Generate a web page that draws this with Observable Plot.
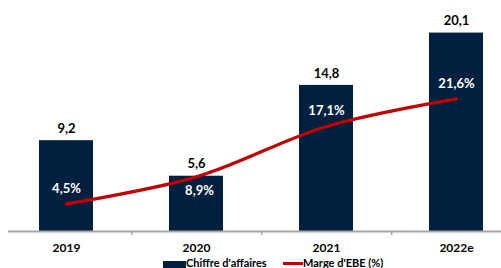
<!DOCTYPE html>
<html>
<head>
<meta charset="utf-8">
<script src="https://cdn.jsdelivr.net/npm/d3@7"></script>
<script src="https://cdn.jsdelivr.net/npm/@observablehq/plot@0.6"></script>
<style>
  html, body { margin: 0; padding: 0; background: #fff; }
  body { width: 501px; height: 268px; overflow: hidden; font-family: Lato, "Open Sans", sans-serif; }
  #chart svg { display: block; }
  .legend { position: relative; height: 11px; margin-top: 5px; font-size: 11px; line-height: 11px; font-weight: bold; color: #000; }
  .legend .item { position: absolute; top: 0; display: flex; align-items: center; height: 11px; }
  .legend .sw-bar { width: 23px; height: 9px; background: #002040; margin-top: 6px; }
  .legend .sw-line { width: 20px; height: 3px; background: #C00000; margin-top: 1px; }
</style>
</head>
<body>
<div id="chart"></div>
<div class="legend">
  <div class="item" style="left:163px;"><span class="sw-bar"></span><span class="lbl" id="lg1"></span></div>
  <div class="item" style="left:283px;"><span class="sw-line"></span><span class="lbl" id="lg2"></span></div>
</div>
<script>
const years = ["2019", "2020", "2021", "2022e"];
const chiffreAffaires = [9.2, 5.6, 14.8, 20.1];
const margeEBE = [4.5, 8.9, 17.1, 21.6];
const seriesNames = ["Chiffre d'affaires", "Marge d'EBE (%)"];

// secondary axis (%) mapped onto primary axis units
const secondaryFactor = 0.622;

const fmt = (v, d = 1) => v.toFixed(d).replace(".", ",");

const data = years.map((y, i) => ({
  year: y,
  ca: chiffreAffaires[i],
  marge: margeEBE[i],
  margeScaled: margeEBE[i] * secondaryFactor
}));

document.getElementById("lg1").textContent = seriesNames[0];
document.getElementById("lg2").textContent = seriesNames[1];

const chart = Plot.plot({
  width: 501,
  height: 252,
  marginTop: 0,
  marginBottom: 21,
  marginLeft: 0,
  marginRight: 0,
  style: { fontFamily: "Lato, 'Open Sans', sans-serif", background: "#fff", overflow: "visible" },
  x: { domain: years, range: [0, 521], padding: 0, axis: null },
  y: { domain: [0, 23.4], axis: null },
  marks: [
    Plot.barY(data, { x: "year", y: "ca", fill: "#002040", insetLeft: 38, insetRight: 38 }),
    Plot.ruleY([0], { stroke: "#A6A6A6", strokeWidth: 2, insetLeft: 8 }),
    Plot.ruleX(years.slice(0, 3), { x: d => d, dx: 65.2, y1: 0, y2: -0.4, stroke: "#A6A6A6", strokeWidth: 1.5 }),
    Plot.text(data, { x: "year", y: "ca", text: d => fmt(d.ca), dy: -12, fontSize: 13, fontWeight: "bold", fill: "#000" }),
    Plot.text(data, { x: "year", y: 0, text: "year", dy: 16.5, fontSize: 12, fontWeight: "bold", fill: "#000" }),
    Plot.line(data, { x: "year", y: "margeScaled", stroke: "#C00000", strokeWidth: 3.2, curve: "catmull-rom" }),
    Plot.text(data.filter(d => d.year !== "2020"), { x: "year", y: "margeScaled", text: d => fmt(d.marge) + "%", dy: -15.5, fontSize: 13, fontWeight: "bold", fill: "#fff" }),
    Plot.text(data.filter(d => d.year === "2020"), { x: "year", y: "margeScaled", text: d => fmt(d.marge) + "%", dy: 13.5, dx: 3, fontSize: 13, fontWeight: "bold", fill: "#fff" })
  ]
});
document.getElementById("chart").appendChild(chart);
</script>
</body>
</html>
